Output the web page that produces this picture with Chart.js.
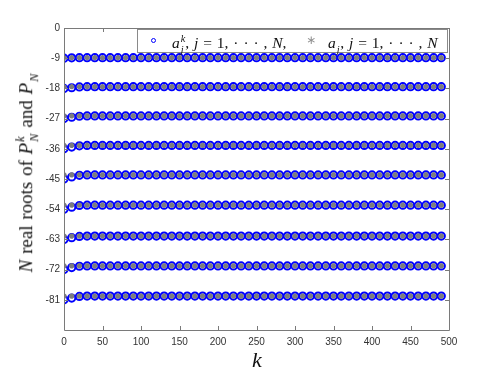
<!DOCTYPE html>
<html>
<head>
<meta charset="utf-8">
<script src="https://cdn.jsdelivr.net/npm/chart.js@4"></script>
<style>
body{margin:0;background:#fff}
#wrap{position:relative;width:497px;height:372px}
.math{position:absolute;white-space:nowrap;font-family:"Liberation Serif","DejaVu Serif",serif;color:#111;line-height:1}
.ss{display:inline-flex;flex-direction:column;vertical-align:0.62em;font-size:0.66em;line-height:1.1;font-style:italic;margin-left:1px}
#legend{position:absolute;left:137px;top:29px;width:309px;height:22px;border:1px solid #8a8a8a;background:#fff}
#legend .math{font-size:15.5px;word-spacing:1px;top:3px}
#mk1{position:absolute;left:13px;top:8px;width:3px;height:3px;border:1.8px solid #0000ff;border-radius:50%}
#mk2{position:absolute;left:168px;top:3px;font:12px "DejaVu Sans",sans-serif;color:#909090}
</style>
</head>
<body>
<div id="wrap">
<canvas id="chart" width="497" height="372"></canvas>
<div id="legend">
  <div id="mk1"></div>
  <div class="math" style="left:34px"><i>a</i><span class="ss"><span>k</span><span>j</span></span>, <i>j</i> = 1, · · · , <i>N</i>,</div>
  <div id="mk2">∗</div>
  <div class="math" style="left:190px"><i>a</i><span class="ss"><span>&nbsp;</span><span>j</span></span>, <i>j</i> = 1, · · · , <i>N</i></div>
</div>
<div class="math" style="left:28px;top:173px;font-size:19px;word-spacing:1px;transform:translate(-50%,-50%) rotate(-90deg)"><i>N</i> real roots of <i>P</i><span class="ss"><span>k</span><span>N</span></span> and <i>P</i><span class="ss"><span>&nbsp;</span><span>N</span></span></div>
<div class="math" style="left:257px;top:360px;font-size:22px;transform:translate(-50%,-50%)"><i>k</i></div>
</div>
<script>
const kValues = [0, 10, 20, 30, 40, 50, 60, 70, 80, 90, 100, 110, 120, 130, 140, 150, 160, 170, 180, 190,
  200, 210, 220, 230, 240, 250, 260, 270, 280, 290, 300, 310, 320, 330, 340, 350, 360, 370, 380, 390,
  400, 410, 420, 430, 440, 450, 460, 470, 480, 490];
const xTicks = [0, 50, 100, 150, 200, 250, 300, 350, 400, 450, 500];
const yTicks = [0, -9, -18, -27, -36, -45, -54, -63, -72, -81];

// a_j^k at k = 0
const startRoots = [-9, -18, -27, -36, -45, -54, -63, -72, -81];
// a_j^k at k = 10, 20, 30
const earlyRoots = [
  [-8.9, -8.85, -8.85],
  [-17.8, -17.55, -17.5],
  [-26.6, -26.3, -26.2],
  [-35.5, -35.1, -35.0],
  [-44.4, -43.9, -43.8],
  [-53.4, -52.9, -52.8],
  [-62.5, -62.1, -62.0],
  [-71.4, -71.0, -70.9],
  [-80.5, -80.0, -79.9]
];
// a_j (roots of P_N), also where a_j^k settles
const limitRoots = [-8.85, -17.5, -26.2, -35.0, -43.8, -52.8, -62.0, -70.9, -79.9];

var bluePts = [];
var grayPts = [];
for (var j = 0; j < limitRoots.length; j++) {
  for (var i = 0; i < kValues.length; i++) {
    var y;
    if (i == 0) y = startRoots[j];
    else if (i <= earlyRoots[j].length) y = earlyRoots[j][i - 1];
    else y = limitRoots[j];
    bluePts.push({x: kValues[i], y: y});
    grayPts.push({x: kValues[i], y: limitRoots[j]});
  }
}

const axisColor = '#7a7a7a';

// matlab style box with inward ticks
const boxPlugin = {
  id: 'box',
  afterDraw(chart) {
    const ctx = chart.ctx;
    const a = chart.chartArea;
    const xs = chart.scales.x, ys = chart.scales.y;
    ctx.save();
    ctx.strokeStyle = axisColor;
    ctx.lineWidth = 1;
    ctx.beginPath();
    ctx.rect(Math.round(a.left) + 0.5, Math.round(a.top) + 0.5, Math.round(a.right - a.left), Math.round(a.bottom - a.top));
    xTicks.forEach(function(t) {
      var px = Math.round(xs.getPixelForValue(t)) + 0.5;
      ctx.moveTo(px, a.bottom); ctx.lineTo(px, a.bottom - 4);
      ctx.moveTo(px, a.top); ctx.lineTo(px, a.top + 4);
    });
    yTicks.forEach(function(t) {
      var py = Math.round(ys.getPixelForValue(t)) + 0.5;
      ctx.moveTo(a.left, py); ctx.lineTo(a.left + 4, py);
      ctx.moveTo(a.right, py); ctx.lineTo(a.right - 4, py);
    });
    ctx.stroke();
    ctx.restore();
  }
};

new Chart(document.getElementById('chart'), {
  type: 'scatter',
  data: {
    datasets: [
      {
        label: 'a_j',
        data: grayPts,
        pointStyle: 'star',
        pointRadius: 2.6,
        borderWidth: 2.3,
        borderColor: 'rgb(125,125,125)',
        backgroundColor: 'rgb(125,125,125)'
      },
      {
        label: 'a_j^k',
        data: bluePts,
        pointStyle: 'circle',
        pointRadius: 3.6,
        borderWidth: 2,
        borderColor: 'rgb(0,0,255)',
        backgroundColor: 'rgba(0,0,0,0)'
      }
    ]
  },
  options: {
    responsive: false,
    animation: false,
    devicePixelRatio: 1,
    layout: {padding: {top: 28, right: 48, left: 0, bottom: 0}},
    plugins: {legend: {display: false}, tooltip: {enabled: false}},
    scales: {
      x: {
        type: 'linear', min: 0, max: 500,
        afterBuildTicks: function(s) { s.ticks = xTicks.map(function(v) { return {value: v}; }); },
        afterFit: function(s) { s.height = 42; },
        grid: {display: false, drawTicks: false},
        border: {display: false},
        ticks: {padding: 6, color: '#333', font: {family: 'Liberation Sans', size: 10}, maxRotation: 0}
      },
      y: {
        type: 'linear', min: -90, max: 0,
        afterBuildTicks: function(s) { s.ticks = yTicks.map(function(v) { return {value: v}; }); },
        afterFit: function(s) { s.width = 64; },
        grid: {display: false, drawTicks: false},
        border: {display: false},
        ticks: {padding: 4, color: '#333', font: {family: 'Liberation Sans', size: 10}}
      }
    }
  },
  plugins: [boxPlugin]
});
</script>
</body>
</html>
